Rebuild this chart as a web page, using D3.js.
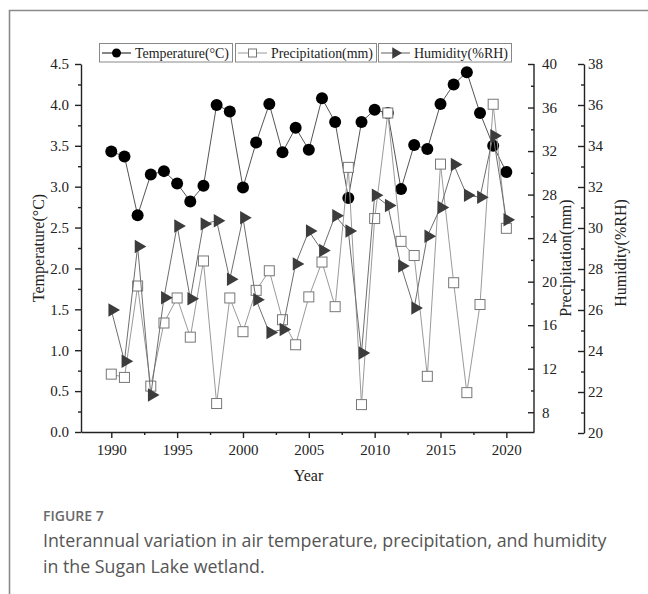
<!DOCTYPE html>
<html>
<head>
<meta charset="utf-8">
<script src="https://cdn.jsdelivr.net/npm/d3@7"></script>
<style>
  body { margin: 0; background: #fff; }
  svg { display: block; }
  .serif { font-family: "Liberation Serif", "Times New Roman", serif; }
  .axis path, .axis line { stroke: #222; stroke-width: 1.4; }
  .axis text { font-family: "Liberation Serif", serif; font-size: 15px; fill: #222; }
</style>
</head>
<body>
<svg id="chart" width="648" height="594"></svg>
<script>
// data
var years = d3.range(1990, 2021)
var temperature = [3.43, 3.37, 2.65, 3.15, 3.19, 3.04, 2.82, 3.01, 4.00, 3.92,
  2.99, 3.54, 4.01, 3.42, 3.72, 3.45, 4.08, 3.79, 2.86, 3.79,
  3.94, 3.90, 2.97, 3.51, 3.46, 4.01, 4.25, 4.40, 3.90, 3.50, 3.18]
var precipitation = [11.5, 11.2, 19.6, 10.4, 16.2, 18.5, 14.9, 21.9, 8.8, 18.5,
  15.4, 19.2, 21.0, 16.5, 14.2, 18.6, 21.8, 17.7, 30.5, 8.7,
  25.8, 35.5, 23.7, 22.4, 11.3, 30.8, 19.9, 9.8, 17.9, 36.3, 24.9]
var humidity = [26.0, 23.5, 29.1, 21.85, 26.6, 30.1, 26.55, 30.2, 30.35, 27.5,
  30.5, 26.5, 24.9, 25.05, 28.25, 29.85, 28.9, 30.6, 29.85, 23.9,
  31.6, 31.1, 28.15, 26.1, 29.6, 31.0, 33.1, 31.6, 31.5, 34.5, 30.4]

var tempTicks = d3.range(0, 4.51, 0.5)
var precipTicks = d3.range(8, 40.1, 4)
var humidTicks = d3.range(20, 38.1, 2)
var yearTicks = d3.range(1990, 2021, 5)

var svg = d3.select("#chart")

// outer frame (only top and left edges visible)
svg.append("path")
  .attr("d", "M9.5,594 L9.5,10.5 L648,10.5")
  .attr("fill", "none")
  .attr("stroke", "#8a8a8a")
  .attr("stroke-width", 1.6)

var pLeft = 81, pRight = 534, pTop = 64, pBottom = 432

var x = d3.scaleLinear().domain([1987.7, 2022.1]).range([pLeft, pRight])
var yT = d3.scaleLinear().domain([0, 4.5]).range([pBottom, pTop])
var yP = d3.scaleLinear().domain([6, 40]).range([434, pTop])
var yH = d3.scaleLinear().domain([20, 38]).range([433, pTop])

// x axis
svg.append("g").attr("class", "axis").attr("transform", "translate(0," + pBottom + ")")
  .call(d3.axisBottom(x).tickValues(yearTicks).tickFormat(d3.format("d")).tickSize(6).tickSizeOuter(0).tickPadding(6))
svg.append("g").attr("class", "axis").attr("transform", "translate(0," + pBottom + ")")
  .call(d3.axisBottom(x).tickValues(d3.range(1992.5, 2021, 5)).tickFormat("").tickSize(3).tickSizeOuter(0))
  .select(".domain").remove()

// left axis
svg.append("g").attr("class", "axis").attr("transform", "translate(" + pLeft + ",0)")
  .call(d3.axisLeft(yT).tickValues(tempTicks).tickFormat(d3.format(".1f")).tickSize(6).tickSizeOuter(0).tickPadding(6))
svg.append("g").attr("class", "axis").attr("transform", "translate(" + pLeft + ",0)")
  .call(d3.axisLeft(yT).tickValues(d3.range(0.25, 4.5, 0.5)).tickFormat("").tickSize(3).tickSizeOuter(0))
  .select(".domain").remove()

// precipitation axis (ticks point inward)
var gp = svg.append("g").attr("class", "axis").attr("transform", "translate(" + pRight + ",0)")
gp.call(d3.axisRight(yP).tickValues(precipTicks).tickSize(-6).tickSizeOuter(0).tickPadding(8))
gp.select(".domain").attr("d", "M0," + pTop + "V" + pBottom)
svg.append("g").attr("class", "axis").attr("transform", "translate(" + pRight + ",0)")
  .call(d3.axisRight(yP).tickValues(d3.range(10, 39, 4)).tickFormat("").tickSize(-3).tickSizeOuter(0))
  .select(".domain").remove()

// humidity axis
var hx = 584
svg.append("g").attr("class", "axis").attr("transform", "translate(" + hx + ",0)")
  .call(d3.axisRight(yH).tickValues(humidTicks).tickSize(-6).tickSizeOuter(0).tickPadding(4))
svg.append("g").attr("class", "axis").attr("transform", "translate(" + hx + ",0)")
  .call(d3.axisRight(yH).tickValues(d3.range(21, 38, 2)).tickFormat("").tickSize(-3).tickSizeOuter(0))
  .select(".domain").remove()

// axis titles
svg.append("text").attr("class", "serif")
  .attr("x", (pLeft + pRight) / 2 + 1).attr("y", 481)
  .attr("text-anchor", "middle").attr("font-size", 16).attr("fill", "#222")
  .text("Year")
svg.append("text").attr("class", "serif")
  .attr("transform", "translate(44,248) rotate(-90)")
  .attr("text-anchor", "middle").attr("font-size", 16).attr("fill", "#222")
  .text("Temperature(°C)")
svg.append("text").attr("class", "serif")
  .attr("transform", "translate(571,258) rotate(-90)")
  .attr("text-anchor", "middle").attr("font-size", 16).attr("fill", "#222")
  .text("Precipitation(mm)")
svg.append("text").attr("class", "serif")
  .attr("transform", "translate(626,253) rotate(-90)")
  .attr("text-anchor", "middle").attr("font-size", 16).attr("fill", "#222")
  .text("Humidity(%RH)")

var tri = d3.symbol().type(d3.symbolTriangle).size(78)

// temperature series
svg.append("path")
  .datum(temperature)
  .attr("fill", "none").attr("stroke", "#555").attr("stroke-width", 1)
  .attr("d", d3.line().x(function(d, i) { return x(years[i]) }).y(function(d) { return yT(d) }))
svg.selectAll(".tdot").data(temperature).enter().append("circle")
  .attr("cx", function(d, i) { return x(years[i]) })
  .attr("cy", function(d) { return yT(d) })
  .attr("r", 6).attr("fill", "#000")

// precipitation series
svg.append("path")
  .datum(precipitation)
  .attr("fill", "none").attr("stroke", "#9a9a9a").attr("stroke-width", 1)
  .attr("d", d3.line().x(function(d, i) { return x(years[i]) }).y(function(d) { return yP(d) }))
svg.selectAll(".psq").data(precipitation).enter().append("rect")
  .attr("x", function(d, i) { return x(years[i]) - 5 })
  .attr("y", function(d) { return yP(d) - 5 })
  .attr("width", 10).attr("height", 10)
  .attr("fill", "#fff").attr("stroke", "#777").attr("stroke-width", 1)

// humidity series
svg.append("path")
  .datum(humidity)
  .attr("fill", "none").attr("stroke", "#6e6e6e").attr("stroke-width", 1)
  .attr("d", d3.line().x(function(d, i) { return x(years[i]) }).y(function(d) { return yH(d) }))
svg.selectAll(".htri").data(humidity).enter().append("path")
  .attr("d", tri)
  .attr("transform", function(d, i) { return "translate(" + (x(years[i]) + 1) + "," + yH(d) + ") rotate(90)" })
  .attr("fill", "#3c3c3c")

// legend
var legendItems = [
  { name: "Temperature(°C)", x0: 99, x1: 232, kind: "circle", line: "#333" },
  { name: "Precipitation(mm)", x0: 235, x1: 376, kind: "square", line: "#aaa" },
  { name: "Humidity(%RH)", x0: 378, x1: 511, kind: "tri", line: "#777" }
]
var lg = svg.selectAll(".leg").data(legendItems).enter().append("g")
lg.append("rect")
  .attr("x", function(d) { return d.x0 + 0.5 }).attr("y", 43.5)
  .attr("width", function(d) { return d.x1 - d.x0 }).attr("height", 18.5)
  .attr("fill", "#fff").attr("stroke", "#888").attr("stroke-width", 1)
lg.append("line")
  .attr("x1", function(d) { return d.x0 + 3 }).attr("x2", function(d) { return d.x0 + 32 })
  .attr("y1", 53).attr("y2", 53)
  .attr("stroke", function(d) { return d.line }).attr("stroke-width", 1.2)
lg.each(function(d) {
  var g = d3.select(this), cx = d.x0 + 17.5
  if (d.kind === "circle") g.append("circle").attr("cx", cx).attr("cy", 53).attr("r", 4.5).attr("fill", "#000")
  else if (d.kind === "square") g.append("rect").attr("x", cx - 4).attr("y", 49).attr("width", 8).attr("height", 8)
    .attr("fill", "#fff").attr("stroke", "#777")
  else g.append("path").attr("d", d3.symbol().type(d3.symbolTriangle).size(55))
    .attr("transform", "translate(" + cx + ",53) rotate(90)").attr("fill", "#3c3c3c")
})
lg.append("text").attr("class", "serif")
  .attr("x", function(d) { return d.x0 + 36 }).attr("y", 58)
  .attr("font-size", 14).attr("fill", "#222")
  .attr("textLength", function(d) { return d.x1 - d.x0 - 39 })
  .attr("lengthAdjust", "spacingAndGlyphs")
  .text(function(d) { return d.name })

// caption
svg.append("text")
  .attr("x", 43).attr("y", 521)
  .attr("font-family", "Open Sans, sans-serif").attr("font-size", 14).attr("font-weight", 600)
  .attr("fill", "#6a6a6a")
  .text("FIGURE 7")
var capLines = ["Interannual variation in air temperature, precipitation, and humidity",
  "in the Sugan Lake wetland."]
svg.selectAll(".cap").data(capLines).enter().append("text")
  .attr("x", 43).attr("y", function(d, i) { return 547 + i * 26 })
  .attr("font-family", "Open Sans, sans-serif").attr("font-size", 17.8)
  .attr("fill", "#555")
  .text(function(d) { return d })
</script>
</body>
</html>
